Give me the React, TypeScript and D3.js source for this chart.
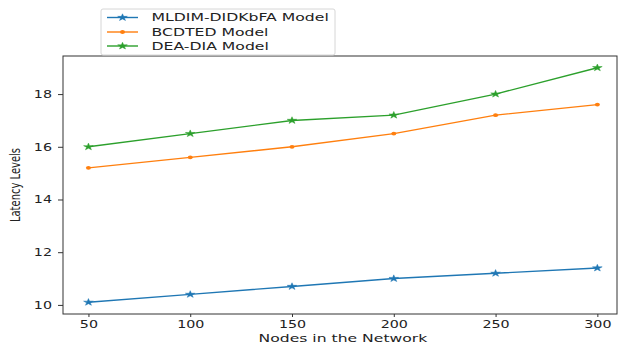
import React, { useEffect, useRef } from "react";
import * as d3 from "d3";

const nodes = [50, 100, 150, 200, 250, 300];
const mldim = [10.1, 10.4, 10.7, 11.0, 11.2, 11.4];
const bcdted = [15.2, 15.6, 16.0, 16.5, 17.2, 17.6];
const deadia = [16.0, 16.5, 17.0, 17.2, 18.0, 19.0];
const seriesNames = ["MLDIM-DIDKbFA Model", "BCDTED Model", "DEA-DIA Model"];
const seriesColors = ["#1f77b4", "#ff7f0e", "#2ca02c"];
const seriesMarkers = ["star", "dot", "star"];
const xTicks = [50, 100, 150, 200, 250, 300];
const yTicks = [10, 12, 14, 16, 18];

const W = 618;
const H = 347;
const FONT = "DejaVu Sans, sans-serif";

export default function App() {
  const ref = useRef<SVGSVGElement>(null);

  useEffect(() => {
    const svg = d3.select(ref.current);
    svg.selectAll("*").remove();

    const left = 63, right = 622.8, top = 56, bottom = 314;
    const x = d3.scaleLinear().domain([37.5, 312.5]).range([left, right]);
    const y = d3.scaleLinear().domain([9.655, 19.445]).range([bottom, top]);

    svg.append("rect").attr("width", W).attr("height", H).attr("fill", "#fff");

    svg.append("rect")
      .attr("x", left).attr("y", top)
      .attr("width", 617 - left).attr("height", bottom - top)
      .attr("fill", "none").attr("stroke", "#333").attr("stroke-width", 1);

    const TSX = 1.36;
    const gx = svg.append("g").attr("transform", `translate(0,${bottom})`)
      .call(d3.axisBottom(x).tickValues(xTicks).tickSize(3).tickPadding(2).tickFormat(d3.format("d")));
    gx.select(".domain").remove();
    gx.selectAll("line").attr("stroke", "#333");
    gx.selectAll("text")
      .attr("font-family", FONT).attr("font-size", 10.5).attr("fill", "#222")
      .attr("transform", `scale(${TSX},1)`).attr("dy", "0.85em");

    const gy = svg.append("g").attr("transform", `translate(${left},0)`)
      .call(d3.axisLeft(y).tickValues(yTicks).tickSize(5).tickPadding(5).tickFormat(d3.format("d")));
    gy.select(".domain").remove();
    gy.selectAll("line").attr("stroke", "#333");
    gy.selectAll("text")
      .attr("font-family", FONT).attr("font-size", 10.5).attr("fill", "#222")
      .attr("x", -11 / TSX)
      .attr("transform", `scale(${TSX},1)`);

    svg.append("text")
      .attr("transform", `translate(${(left + right) / 2},342) scale(1.42,1)`)
      .attr("text-anchor", "middle").attr("font-family", FONT).attr("font-size", 11).attr("fill", "#222")
      .text("Nodes in the Network");
    svg.append("text")
      .attr("transform", `translate(20,${(top + bottom) / 2}) rotate(-90) scale(0.74,1)`)
      .attr("text-anchor", "middle").attr("font-family", FONT).attr("font-size", 13.5).attr("fill", "#222")
      .text("Latency Levels");

    const data = [mldim, bcdted, deadia];
    const line = d3.line<number>().x((_, i) => x(nodes[i])).y((d) => y(d));
    const star = d3.symbol().type(d3.symbolStar).size(24)();

    const drawMarker = (g: any, kind: string, color: string, cx: number, cy: number) => {
      if (kind === "star") {
        g.append("path").attr("d", star)
          .attr("transform", `translate(${cx},${cy}) scale(1.1,0.8)`)
          .attr("fill", color).attr("stroke", color).attr("stroke-width", 0.5);
      } else {
        g.append("ellipse").attr("cx", cx).attr("cy", cy).attr("rx", 2.5).attr("ry", 1.9)
          .attr("fill", color);
      }
    };

    data.forEach((vals, si) => {
      const g = svg.append("g");
      g.append("path").attr("d", line(vals)).attr("fill", "none")
        .attr("stroke", seriesColors[si]).attr("stroke-width", 1.4);
      vals.forEach((v, i) => drawMarker(g, seriesMarkers[si], seriesColors[si], x(nodes[i]), y(v)));
    });

    const lg = svg.append("g");
    lg.append("rect").attr("x", 101).attr("y", 9).attr("width", 234).attr("height", 46)
      .attr("rx", 2).attr("fill", "#fff").attr("fill-opacity", 0.85)
      .attr("stroke", "#d6d6d6").attr("stroke-width", 1);
    const rowsY = [17.5, 32, 46];
    seriesNames.forEach((name, si) => {
      const ry = rowsY[si];
      lg.append("line").attr("x1", 107).attr("x2", 138).attr("y1", ry).attr("y2", ry)
        .attr("stroke", seriesColors[si]).attr("stroke-width", 1.4);
      drawMarker(lg, seriesMarkers[si], seriesColors[si], 122.5, ry);
      lg.append("text")
        .attr("transform", `translate(151.5,${ry + 3.8}) scale(1.52,1)`)
        .attr("font-family", FONT).attr("font-size", 10.3).attr("fill", "#222")
        .text(name);
    });
  }, []);

  return (
    <svg ref={ref} width={W} height={H}
      style={{ position: "absolute", left: 0, top: 0, display: "block" }} />
  );
}
